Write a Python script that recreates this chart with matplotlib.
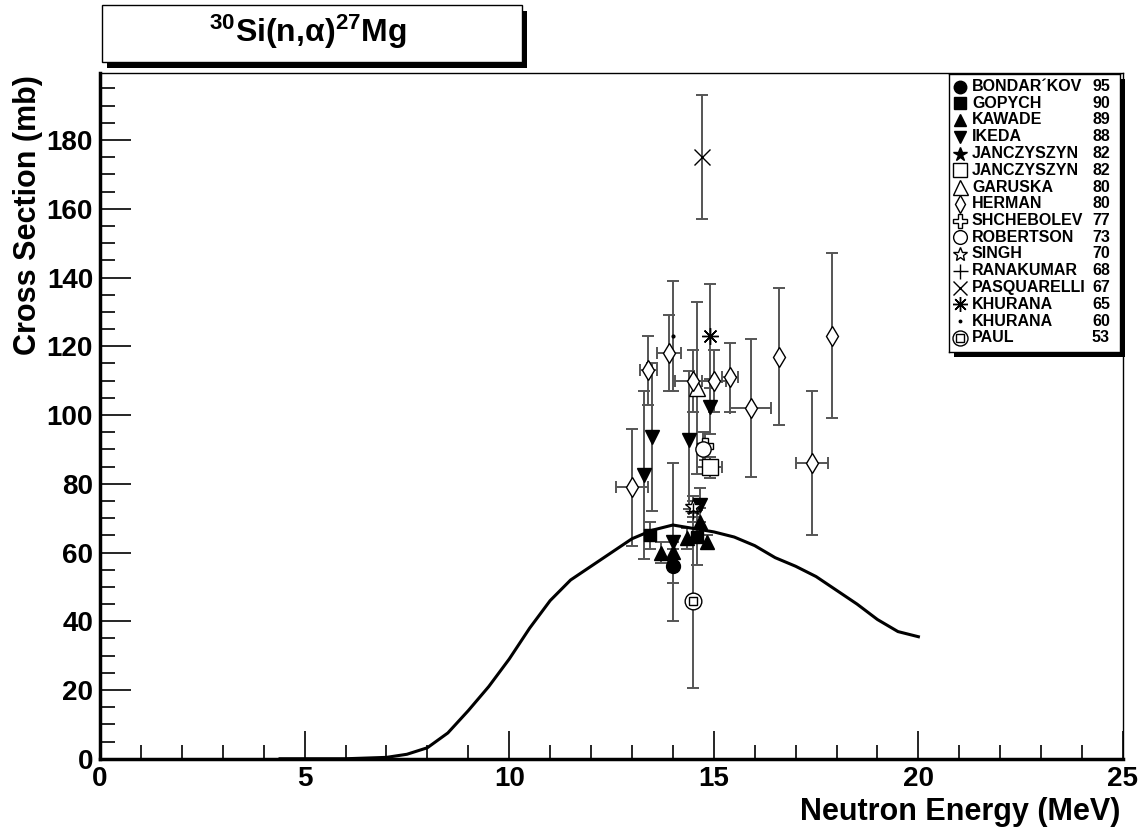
import matplotlib
matplotlib.use("Agg")
import matplotlib.pyplot as plt
from matplotlib.patches import Rectangle
from matplotlib.ticker import MultipleLocator

plt.rcParams['font.family'] = ['Liberation Sans', 'DejaVu Sans']
plt.rcParams['font.weight'] = 'bold'
plt.rcParams['mathtext.fontset'] = 'custom'
plt.rcParams['mathtext.rm'] = 'Liberation Sans:bold'
plt.rcParams['mathtext.bf'] = 'Liberation Sans:bold'
plt.rcParams['mathtext.it'] = 'Liberation Sans:bold'

W, H = 1145, 834

# evaluated curve
curve_e = [4.4, 6.0, 7.0, 7.5, 8.0, 8.5, 9.0, 9.5, 10.0, 10.5, 11.0, 11.5, 12.0,
           12.5, 13.0, 13.5, 14.0, 14.5, 15.0, 15.5, 16.0, 16.5, 17.0, 17.5,
           18.0, 18.5, 19.0, 19.5, 20.0]
curve_xs = [0.0, 0.0, 0.4, 1.3, 3.2, 7.5, 14.0, 21.0, 29.0, 38.0, 46.0, 52.0, 56.0,
            60.0, 64.0, 66.5, 68.0, 67.0, 66.0, 64.5, 62.0, 58.5, 56.0, 53.0,
            49.0, 45.0, 40.5, 37.0, 35.5]

# experimental data sets
bondarkov_x, bondarkov_y, bondarkov_dy = [14.0], [56.0], [5.0]
gopych_x, gopych_y, gopych_dy = [13.45, 14.58], [65.0, 64.4], [4.0, 8.0]
kawade_x = [13.7, 14.0, 14.34, 14.66, 14.84]
kawade_y = [60.0, 60.2, 64.1, 69.0, 63.1]
kawade_dy = [3.0, 3.0, 3.0, 4.0, 2.0]
ikeda_x = [13.3, 13.5, 14.0, 14.4, 14.66, 14.9]
ikeda_y = [82.5, 93.7, 63.1, 92.7, 73.8, 102.4]
ikeda_dy = [24.5, 21.5, 23.0, 20.0, 5.0, 8.0]
janczA_x, janczA_y, janczA_dy = [14.9], [84.8], [3.0]
janczB_x, janczB_y, janczB_dy, janczB_dx = [14.9], [84.8], [3.0], [0.3]
garuska_x, garuska_y, garuska_dy = [14.58], [107.8], [25.0]
herman_x = [13.0, 13.4, 13.9, 14.5, 15.0, 15.4, 15.9, 16.6, 17.4, 17.9]
herman_y = [79.0, 113.0, 118.0, 110.0, 110.0, 111.0, 102.0, 117.0, 86.0, 123.0]
herman_dy = [17.0, 10.0, 11.0, 9.0, 9.0, 10.0, 20.0, 20.0, 21.0, 24.0]
herman_dx = [0.4, 0.2, 0.3, 0.45, 0.3, 0.2, 0.5, 0.0, 0.4, 0.0]
shchebolev_x, shchebolev_y, shchebolev_dy = [14.78], [91.0], [4.0]
robertson_x, robertson_y, robertson_dy = [14.74], [90.0], [5.0]
singh_x, singh_y, singh_dy = [14.48], [73.3], [3.0]
ranakumar_x, ranakumar_y, ranakumar_dy = [14.5], [72.0], [3.0]
pasquarelli_x, pasquarelli_y, pasquarelli_dy = [14.7], [175.0], [18.0]
khuranaA_x, khuranaA_y, khuranaA_dy = [14.9], [123.0], [15.0]
khuranaB_x, khuranaB_y, khuranaB_dy = [14.0], [123.0], [16.0]
paul_x, paul_y, paul_dy = [14.5], [46.0], [25.5]

names = ["BONDAR\u00b4KOV", "GOPYCH", "KAWADE", "IKEDA", "JANCZYSZYN", "JANCZYSZYN",
         "GARUSKA", "HERMAN", "SHCHEBOLEV", "ROBERTSON", "SINGH", "RANAKUMAR",
         "PASQUARELLI", "KHURANA", "KHURANA", "PAUL"]
years = ["95", "90", "89", "88", "82", "82", "80", "80", "77", "73", "70", "68",
         "67", "65", "60", "53"]

# marker, filled, size
styles = [("o", True, 10), ("s", True, 9), ("^", True, 10), ("v", True, 10),
          ("*", True, 11), ("s", False, 11), ("^", False, 12), ("d", False, 10),
          ("P", False, 11), ("o", False, 11), ("*", False, 12), ("+", False, 12),
          ("x", False, 11), ((8, 2, 0), False, 12), (".", True, 4), ("o", False, 12)]

sets = [(bondarkov_x, bondarkov_y, bondarkov_dy, None),
        (gopych_x, gopych_y, gopych_dy, None),
        (kawade_x, kawade_y, kawade_dy, None),
        (ikeda_x, ikeda_y, ikeda_dy, None),
        (janczA_x, janczA_y, janczA_dy, None),
        (janczB_x, janczB_y, janczB_dy, janczB_dx),
        (garuska_x, garuska_y, garuska_dy, None),
        (herman_x, herman_y, herman_dy, herman_dx),
        (shchebolev_x, shchebolev_y, shchebolev_dy, None),
        (robertson_x, robertson_y, robertson_dy, None),
        (singh_x, singh_y, singh_dy, None),
        (ranakumar_x, ranakumar_y, ranakumar_dy, None),
        (pasquarelli_x, pasquarelli_y, pasquarelli_dy, None),
        (khuranaA_x, khuranaA_y, khuranaA_dy, None),
        (khuranaB_x, khuranaB_y, khuranaB_dy, None),
        (paul_x, paul_y, paul_dy, None)]


def fx(px):
    return px / W


def fy(py):
    return 1 - py / H


fig = plt.figure(figsize=(W / 100, H / 100), dpi=100)
ax = fig.add_axes([fx(100), fy(758.75), fx(1123) - fx(100), fy(73) - fy(758.75)])

for (x, y, dy, dx), (m, filled, ms) in zip(sets, styles):
    ax.errorbar(x, y, yerr=dy, xerr=dx, fmt="none", ecolor="#555555",
                elinewidth=1.4, capsize=4, capthick=1.4, zorder=2)

ax.plot(curve_e, curve_xs, color="black", lw=2.2, zorder=3)

for i, ((x, y, dy, dx), (m, filled, ms)) in enumerate(zip(sets, styles)):
    fc = "black" if filled else "white"
    if m in ("+", "x") or isinstance(m, tuple):
        fc = "black"
    ax.plot(x, y, linestyle="none", marker=m, ms=ms, mfc=fc, mec="black",
            mew=1.0, zorder=4)
    if names[i] == "PAUL":
        ax.plot(x, y, linestyle="none", marker="s", ms=6, mfc="none",
                mec="black", mew=1.0, zorder=5)

ax.set_xlim(0, 25)
ax.set_ylim(0, 199.5)
ax.xaxis.set_major_locator(MultipleLocator(5))
ax.xaxis.set_minor_locator(MultipleLocator(1))
ax.yaxis.set_major_locator(MultipleLocator(20))
ax.yaxis.set_minor_locator(MultipleLocator(5))
ax.tick_params(axis="x", which="major", direction="in", length=20, width=1.2,
               labelsize=20, pad=5)
ax.tick_params(axis="x", which="minor", direction="in", length=10, width=1.2)
ax.tick_params(axis="y", which="major", direction="in", length=22, width=1.2,
               labelsize=20, pad=5)
ax.tick_params(axis="y", which="minor", direction="in", length=11, width=1.2)
for lab in ax.get_xticklabels() + ax.get_yticklabels():
    lab.set_fontweight("bold")
ax.spines["left"].set_linewidth(2.5)
ax.spines["bottom"].set_linewidth(2.5)
ax.spines["top"].set_linewidth(1.0)
ax.spines["right"].set_linewidth(1.0)

fig.text(fx(1120), fy(812), "Neutron Energy (MeV)", ha="right", va="center",
         fontsize=22, fontweight="bold")
fig.text(fx(28), fy(75), "Cross Section (mb)", ha="center", va="top",
         rotation=90, fontsize=22, fontweight="bold")

# title box with shadow
fig.patches.append(Rectangle((fx(107), fy(68)), fx(520) - fx(100), fy(5) - fy(62),
                             transform=fig.transFigure, facecolor="black",
                             edgecolor="none", zorder=1))
fig.patches.append(Rectangle((fx(102), fy(62)), fx(520) - fx(100), fy(5) - fy(62),
                             transform=fig.transFigure, facecolor="white",
                             edgecolor="black", lw=1.0, zorder=2))
fig.text(fx(308), fy(32), r"$^{30}$Si(n,$\alpha$)$^{27}$Mg", ha="center",
         va="center", fontsize=23, fontweight="bold", zorder=3)

# legend box with shadow
lx0, ly0, lx1, ly1 = 949, 74, 1120, 352
fig.patches.append(Rectangle((fx(lx0 + 5), fy(ly1 + 5)), fx(lx1) - fx(lx0),
                             fy(ly0) - fy(ly1), transform=fig.transFigure,
                             facecolor="black", edgecolor="none", zorder=10))
leg = fig.add_axes([fx(lx0), fy(ly1), fx(lx1) - fx(lx0), fy(ly0) - fy(ly1)],
                   zorder=11)
leg.set_xlim(lx0, lx1)
leg.set_ylim(ly1, ly0)
leg.set_xticks([])
leg.set_yticks([])
for s in leg.spines.values():
    s.set_linewidth(1.0)
row0, dr = 86.5, 16.75
for i, (name, yr, (m, filled, ms)) in enumerate(zip(names, years, styles)):
    ry = row0 + i * dr
    fc = "black" if filled else "white"
    if m in ("+", "x") or isinstance(m, tuple):
        fc = "black"
    leg.plot([960], [ry], marker=m, ms=ms * 0.9, mfc=fc, mec="black", mew=1.0,
             linestyle="none")
    if name == "PAUL":
        leg.plot([960], [ry], marker="s", ms=6, mfc="none", mec="black", mew=1.0)
    leg.text(972, ry, name, ha="left", va="center", fontsize=11.5, fontweight="bold")
    leg.text(1110, ry, yr, ha="right", va="center", fontsize=11.5, fontweight="bold")

fig.savefig("out.png", dpi=100)
